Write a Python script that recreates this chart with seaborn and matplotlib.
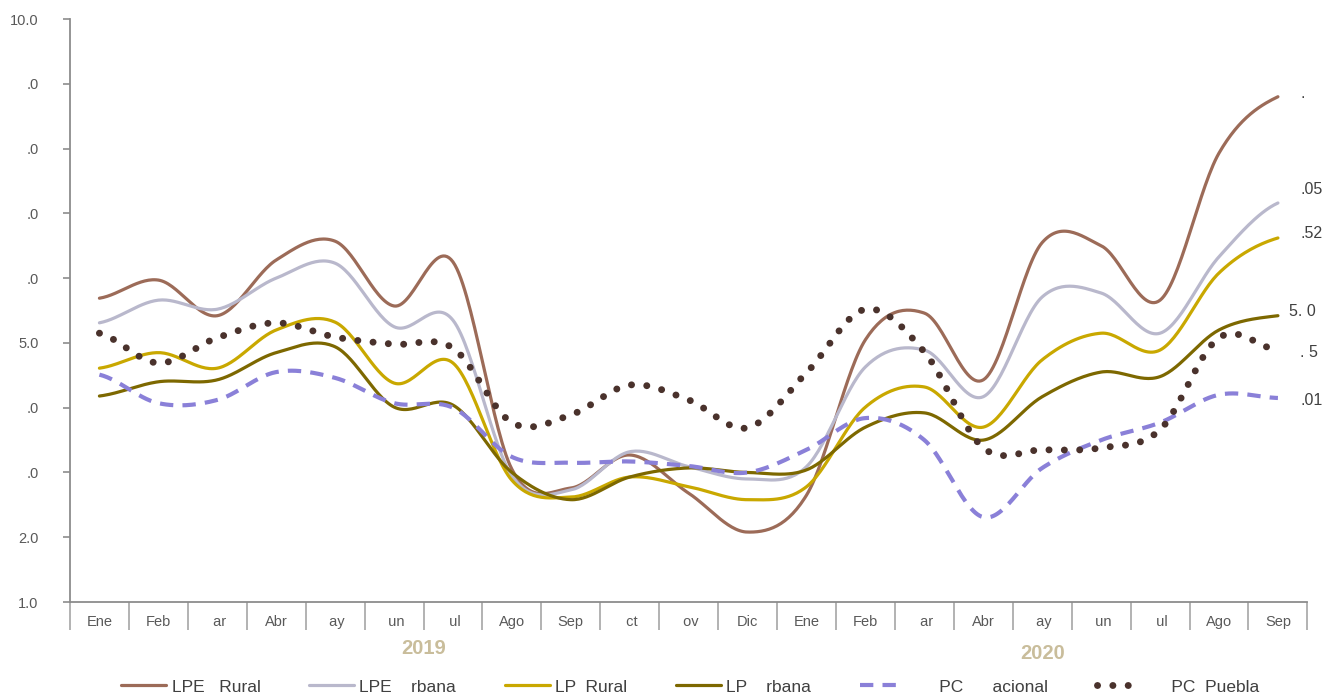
import matplotlib
matplotlib.use("Agg")
import matplotlib.pyplot as plt
import numpy as np
import pandas as pd
import seaborn as sns


MONTHS = ["Ene", "Feb", " ar", "Abr", " ay", " un", " ul", "Ago", "Sep", " ct", " ov", "Dic",
          "Ene", "Feb", " ar", "Abr", " ay", " un", " ul", "Ago", "Sep"]

LPE_RURAL = [5.69, 5.97, 5.42, 6.28, 6.57, 5.57, 6.25, 3.05, 2.76, 3.27, 2.68, 2.08,
             2.65, 5.05, 5.46, 4.43, 6.55, 6.50, 5.66, 7.93, 8.80]
LPE_URBANA = [5.31, 5.66, 5.52, 6.00, 6.23, 5.25, 5.35, 2.95, 2.73, 3.32, 3.09, 2.90,
              3.09, 4.63, 4.89, 4.17, 5.71, 5.77, 5.15, 6.33, 7.16]
LP_RURAL = [4.61, 4.85, 4.61, 5.20, 5.32, 4.38, 4.69, 2.88, 2.62, 2.93, 2.78, 2.58,
            2.78, 4.01, 4.32, 3.70, 4.74, 5.15, 4.89, 6.08, 6.62]
LP_URBANA = [4.18, 4.40, 4.43, 4.85, 4.94, 4.01, 4.04, 3.00, 2.58, 2.93, 3.07, 3.00,
             3.04, 3.70, 3.92, 3.50, 4.17, 4.55, 4.48, 5.20, 5.42]
PC_NACIONAL = [4.51, 4.07, 4.12, 4.55, 4.46, 4.07, 4.00, 3.24, 3.15, 3.17, 3.10, 3.00,
               3.35, 3.84, 3.50, 2.31, 3.07, 3.50, 3.77, 4.20, 4.15]
PC_PUEBLA = [5.15, 4.69, 5.08, 5.31, 5.09, 4.98, 4.92, 3.77, 3.89, 4.35, 4.12, 3.69,
             4.54, 5.52, 4.86, 3.38, 3.35, 3.38, 3.66, 5.08, 4.89]

Y_TICKS = [10, 9, 8, 7, 6, 5, 4, 3, 2, 1]
Y_LABELS = ["10.0", ".0", ".0", ".0", ".0", "5.0", ".0", ".0", "2.0", "1.0"]

# value labels at the right end, one per series (same order as SERIES)
END_LABELS = [".", ".05", ".52", "5. 0", ".01", ". 5"]
YEARS = ["2019", "2020"]

SERIES = [
    ("LPE   Rural", LPE_RURAL, dict(color="#9C6B58", lw=2.3, linestyle="-")),
    ("LPE    rbana", LPE_URBANA, dict(color="#B9B8CC", lw=2.3, linestyle="-")),
    ("LP  Rural", LP_RURAL, dict(color="#C9A800", lw=2.3, linestyle="-")),
    ("LP    rbana", LP_URBANA, dict(color="#7D6800", lw=2.3, linestyle="-")),
    ("      PC      acional", PC_NACIONAL, dict(color="#8A80D8", lw=3.0,
                                                 linestyle=(0, (3.2, 2.2)))),
    ("     PC  Puebla", PC_PUEBLA, dict(color="#4A322C", lw=5.0, linestyle=(0, (0.01, 2.2)),
                                       dash_capstyle="round")),
]

# offsets (points) for the end labels
END_OFFSETS = [(16, 2), (16, 10), (16, 3), (8, 3), (16, -2), (16, -2)]


def smooth(values, steps=30):
    """Catmull-Rom curve through the monthly values (like Excel's smoothed line)."""
    y = np.asarray(values, dtype=float)
    p = np.concatenate([[y[0]], y, [y[-1]]])
    t = np.linspace(0, 1, steps, endpoint=False)
    xs, ys = [], []
    for i in range(len(y) - 1):
        p0, p1, p2, p3 = p[i], p[i + 1], p[i + 2], p[i + 3]
        seg = 0.5 * (2 * p1 + (p2 - p0) * t + (2 * p0 - 5 * p1 + 4 * p2 - p3) * t ** 2
                     + (-p0 + 3 * p1 - 3 * p2 + p3) * t ** 3)
        xs.append(i + t)
        ys.append(seg)
    xs.append([len(y) - 1])
    ys.append([y[-1]])
    return np.concatenate(xs), np.concatenate(ys)


sns.set_style("white")
plt.rcParams["font.family"] = ["Liberation Sans", "DejaVu Sans"]

fig = plt.figure(figsize=(13.3, 6.96), dpi=100)
ax = fig.add_axes([0.0526, 0.135, 0.9304, 0.8377])

for label, values, style in SERIES:
    xs, ys = smooth(values)
    frame = pd.DataFrame({"x": xs, "y": ys})
    sns.lineplot(data=frame, x="x", y="y", ax=ax, label=label, estimator=None,
                 sort=False, **style)

for (label, values, style), text, offset in zip(SERIES, END_LABELS, END_OFFSETS):
    ax.annotate(text, xy=(len(values) - 1, values[-1]), xytext=offset,
                textcoords="offset points", ha="left", va="center",
                fontsize=11.5, color="#404040")

ax.set_xlim(-0.5, len(MONTHS) - 0.5)
ax.set_ylim(1, 10)
ax.set_xlabel("")
ax.set_ylabel("")

ax.set_yticks(Y_TICKS, Y_LABELS)
ax.set_xticks(range(len(MONTHS)), MONTHS)
ax.set_xticks(np.arange(-0.5, len(MONTHS), 1.0), minor=True)
ax.tick_params(axis="x", which="major", bottom=True, length=0, pad=9, labelsize=10.5,
               labelcolor="#595959")
ax.tick_params(axis="x", which="minor", bottom=True, length=20, width=1.2, color="#A6A6A6",
               direction="out")
ax.tick_params(axis="y", left=True, length=5, width=1.2, color="#8C8C8C", labelsize=10.5,
               labelcolor="#595959", pad=17.5, direction="out")

sns.despine(ax=ax)
for side in ["left", "bottom"]:
    ax.spines[side].set_color("#8C8C8C")
    ax.spines[side].set_linewidth(1.3)

ax.text(5.5, -0.08, YEARS[0], transform=ax.get_xaxis_transform(), ha="center", va="center",
        fontsize=14.5, fontweight="bold", color="#C9BD9B")
ax.text(16.0, -0.088, YEARS[1], transform=ax.get_xaxis_transform(), ha="center", va="center",
        fontsize=14.5, fontweight="bold", color="#C9BD9B")

handles, labels = ax.get_legend_handles_labels()
ax.get_legend().remove()
fig.legend(handles, labels, loc="center", bbox_to_anchor=(0.519, 0.013), ncol=6, frameon=False,
           fontsize=12.5, handlelength=2.6, handletextpad=0.3, columnspacing=2.8,
           labelcolor="#404040")

fig.savefig("out.png", dpi=100)
